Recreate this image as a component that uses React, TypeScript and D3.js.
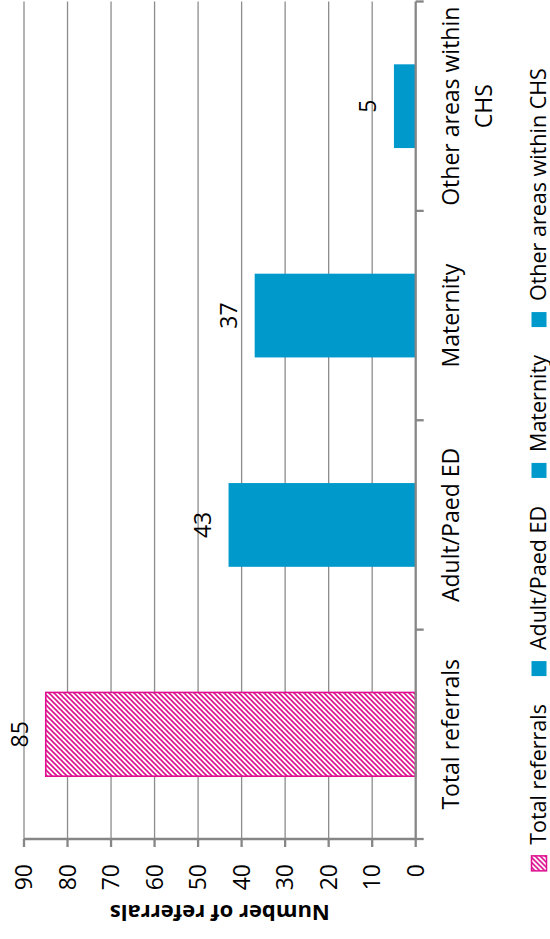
import React, { useEffect, useRef } from "react";
import * as d3 from "d3";

// Referral counts by source
const categories = ["Total referrals", "Adult/Paed ED", "Maternity", "Other areas within CHS"];
const referrals = [85, 43, 37, 5];
const valueTicks = [0, 10, 20, 30, 40, 50, 60, 70, 80, 90];
const axisTitle = "Number of referrals";

const BLUE = "#0099CC";
const PINK = "#DE1090";
const FONT = "'Open Sans', 'Noto Sans', sans-serif";

// The chart is laid out as a regular column chart in a 939 x 550 frame,
// then the whole frame is turned a quarter turn anticlockwise onto the page.
const FW = 939;

export default function App() {
  const ref = useRef<SVGSVGElement | null>(null);

  useEffect(() => {
    const svg = d3.select(ref.current);
    svg.selectAll("*").remove();

    const defs = svg.append("defs");
    const P = 5;
    const pat = defs
      .append("pattern")
      .attr("id", "hatch")
      .attr("patternUnits", "userSpaceOnUse")
      .attr("width", P)
      .attr("height", P);
    pat.append("rect").attr("width", P).attr("height", P).attr("fill", "#ffffff");
    pat
      .append("path")
      .attr("d", `M-1,1 L1,-1 M0,${P} L${P},0 M${P - 1},${P + 1} L${P + 1},${P - 1}`)
      .attr("stroke", PINK)
      .attr("stroke-width", 1.6);

    const g = svg.append("g").attr("transform", `translate(0,${FW}) rotate(-90)`);

    const plotLeft = 100;
    const plotRight = 937.5;
    const y = d3.scaleLinear().domain([0, 90]).range([415.7, 24]);
    const cat = d3.scaleBand<string>().domain(categories).range([plotLeft, plotRight]);
    const bar = d3
      .scaleBand<string>()
      .domain(categories)
      .range([plotLeft, plotRight])
      .paddingInner(0.6)
      .paddingOuter(0.3);

    const fillFor = (i: number) => (i === 0 ? "url(#hatch)" : BLUE);

    // gridlines
    g.append("g")
      .selectAll("line")
      .data(valueTicks.filter((t) => t !== 0))
      .join("line")
      .attr("x1", plotLeft)
      .attr("x2", plotRight)
      .attr("y1", (d) => y(d))
      .attr("y2", (d) => y(d))
      .attr("stroke", "#8C8C8C")
      .attr("stroke-width", 1.3);

    // bars
    g.append("g")
      .selectAll("rect")
      .data(referrals)
      .join("rect")
      .attr("x", (_, i) => bar(categories[i])!)
      .attr("width", bar.bandwidth())
      .attr("y", (d) => y(d))
      .attr("height", (d) => y(0) - y(d))
      .attr("fill", (_, i) => fillFor(i))
      .attr("stroke", (_, i) => (i === 0 ? PINK : "none"))
      .attr("stroke-width", 1.6);

    // value axis
    const vAxis = g.append("g").attr("stroke", "#868686").attr("stroke-width", 2.3);
    vAxis.append("line").attr("x1", plotLeft).attr("x2", plotLeft).attr("y1", y(90)).attr("y2", y(0));
    vAxis
      .selectAll("line.tick")
      .data(valueTicks)
      .join("line")
      .attr("class", "tick")
      .attr("x1", plotLeft - 8)
      .attr("x2", plotLeft)
      .attr("y1", (d) => y(d))
      .attr("y2", (d) => y(d));

    // category axis
    const cAxis = g.append("g").attr("stroke", "#868686").attr("stroke-width", 2.3);
    cAxis.append("line").attr("x1", plotLeft).attr("x2", plotRight).attr("y1", y(0)).attr("y2", y(0));
    const bounds = [...categories.map((c) => cat(c)!), plotRight];
    cAxis
      .selectAll("line.tick")
      .data(bounds)
      .join("line")
      .attr("class", "tick")
      .attr("x1", (d) => d)
      .attr("x2", (d) => d)
      .attr("y1", y(0))
      .attr("y2", y(0) + 8);

    // value tick labels
    g.append("g")
      .selectAll("text")
      .data(valueTicks)
      .join("text")
      .attr("x", 75)
      .attr("y", (d) => y(d))
      .attr("dy", "0.36em")
      .attr("text-anchor", "end")
      .attr("font-family", FONT)
      .attr("font-size", 23)
      .attr("fill", "#000")
      .text((d) => String(d));

    // axis title
    g.append("text")
      .attr("transform", `translate(34,${(y(0) + y(90)) / 2}) rotate(-90)`)
      .attr("text-anchor", "middle")
      .attr("font-family", FONT)
      .attr("font-size", 22)
      .attr("font-weight", "bold")
      .attr("fill", "#000")
      .text(axisTitle);

    // data labels
    g.append("g")
      .selectAll("text")
      .data(referrals)
      .join("text")
      .attr("x", (_, i) => cat(categories[i])! + cat.bandwidth() / 2)
      .attr("y", (d) => y(d) - 18)
      .attr("text-anchor", "middle")
      .attr("font-family", FONT)
      .attr("font-size", 23)
      .attr("fill", "#000")
      .text((d) => String(d));

    // category labels, wrapped to the category width
    const maxW = cat.bandwidth() + 8;
    categories.forEach((c) => {
      const cx = cat(c)! + cat.bandwidth() / 2;
      const t = g
        .append("text")
        .attr("text-anchor", "middle")
        .attr("font-family", FONT)
        .attr("font-size", 23)
        .attr("fill", "#000");
      const words = c.split(" ");
      const lines: string[] = [];
      let cur: string[] = [];
      const probe = t.append("tspan");
      words.forEach((w) => {
        const trial = [...cur, w].join(" ");
        probe.text(trial);
        if ((probe.node() as SVGTSpanElement).getComputedTextLength() > maxW && cur.length) {
          lines.push(cur.join(" "));
          cur = [w];
        } else {
          cur.push(w);
        }
      });
      lines.push(cur.join(" "));
      probe.remove();
      lines.forEach((ln, k) => {
        t.append("tspan").attr("x", cx).attr("y", 459 + k * 33).text(ln);
      });
    });

    // legend
    const legend = g.append("g");
    const items = categories.map((c, i) => {
      const it = legend.append("g");
      it.append("rect")
        .attr("width", 15)
        .attr("height", 15)
        .attr("y", 531.5)
        .attr("fill", fillFor(i))
        .attr("stroke", i === 0 ? PINK : "none")
        .attr("stroke-width", 1.5);
      const tx = it
        .append("text")
        .attr("x", 26)
        .attr("y", 545.5)
        .attr("font-family", FONT)
        .attr("font-size", 21.5)
        .attr("fill", "#000")
        .text(c);
      const w = 26 + (tx.node() as SVGTextElement).getComputedTextLength();
      return { it, w };
    });
    const gap = 28;
    const total = d3.sum(items, (d) => d.w) + gap * (items.length - 1);
    let pos = FW / 2 - total / 2;
    items.forEach(({ it, w }) => {
      it.attr("transform", `translate(${pos},0)`);
      pos += w + gap;
    });
  }, []);

  return (
    <svg
      ref={ref}
      width={550}
      height={939}
      style={{ position: "absolute", left: 0, top: 0, background: "#fff" }}
    />
  );
}
